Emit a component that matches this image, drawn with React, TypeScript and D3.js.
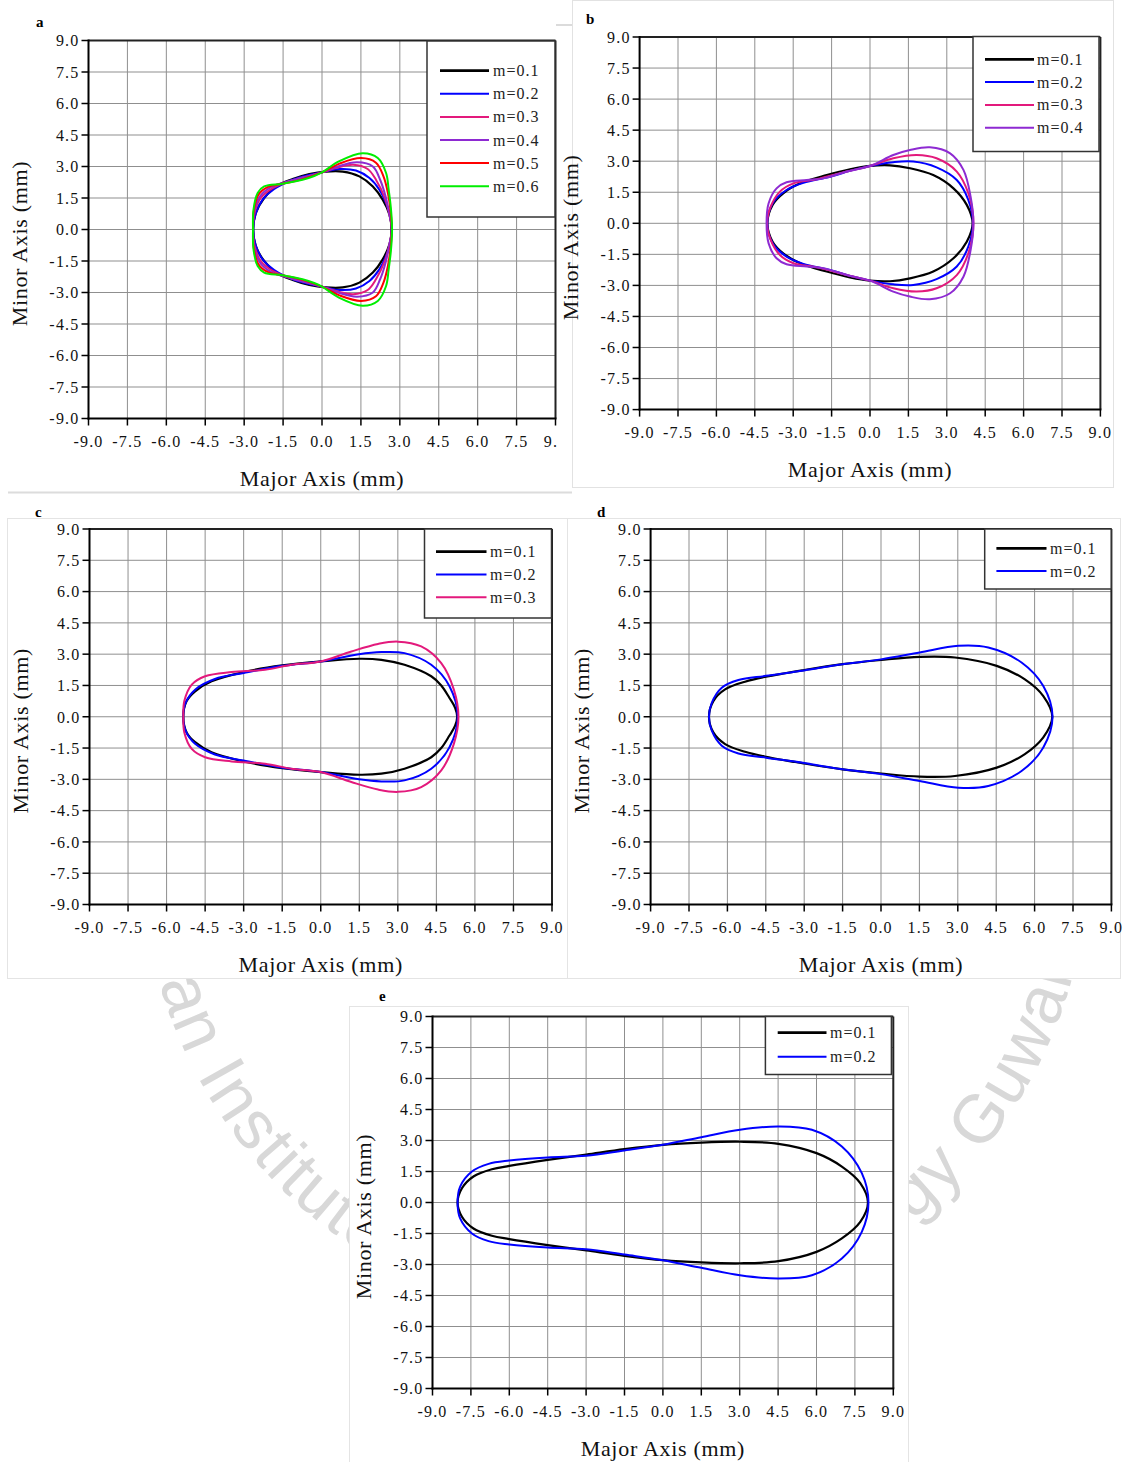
import React from "react";
import * as d3 from "d3";

type Pt = [number, number];

const W = 1129;
const H = 1462;

// axis ticks (same on both axes, all panels)
const tickValues = [-9, -7.5, -6, -4.5, -3, -1.5, 0, 1.5, 3, 4.5, 6, 7.5, 9];
const tickLabels = ["-9.0", "-7.5", "-6.0", "-4.5", "-3.0", "-1.5", "0.0", "1.5", "3.0", "4.5", "6.0", "7.5", "9.0"];

const mLabels = ["m=0.1", "m=0.2", "m=0.3", "m=0.4", "m=0.5", "m=0.6"];
const mColors = ["#000000", "#0000ff", "#e3197c", "#8e2ad2", "#ff0000", "#00ee00"];

// upper halves of the outlines (major, minor) in mm, left tip -> right tip
const A_M01: Pt[] = [[-2.65, 0], [-2.55, 0.79], [-2.23, 1.5], [-1.78, 2.05], [-1.13, 2.4], [-0.49, 2.64], [0.15, 2.76], [0.8, 2.76], [1.44, 2.53], [1.96, 2.05], [2.34, 1.42], [2.6, 0.71], [2.68, 0]];
const A_M02: Pt[] = [[-2.65, 0], [-2.57, 0.71], [-2.29, 1.42], [-1.84, 1.93], [-1.13, 2.37], [-0.5, 2.6], [0, 2.72], [0.67, 2.88], [1.31, 2.81], [1.83, 2.45], [2.21, 1.9], [2.47, 1.26], [2.63, 0.63], [2.68, 0]];
const A_M03: Pt[] = [[-2.66, 0], [-2.6, 0.79], [-2.36, 1.5], [-1.9, 1.97], [-1.13, 2.34], [-0.5, 2.55], [0, 2.72], [0.6, 2.95], [1.2, 3.08], [1.76, 2.88], [2.08, 2.37], [2.42, 1.5], [2.6, 0.71], [2.69, 0]];
const A_M04: Pt[] = [[-2.66, 0], [-2.61, 0.87], [-2.39, 1.58], [-1.97, 2.02], [-1.2, 2.33], [-0.5, 2.55], [0, 2.72], [0.6, 3.0], [1.35, 3.2], [1.96, 3.0], [2.24, 2.37], [2.45, 1.58], [2.6, 0.71], [2.69, 0]];
const A_M05: Pt[] = [[-2.66, 0], [-2.63, 0.87], [-2.45, 1.66], [-2.1, 2.02], [-1.39, 2.21], [-0.75, 2.4], [0, 2.72], [0.7, 3.15], [1.51, 3.4], [2.08, 3.18], [2.37, 2.53], [2.54, 1.74], [2.65, 0.79], [2.69, 0]];
const A_M06: Pt[] = [[-2.66, 0], [-2.64, 0.95], [-2.48, 1.74], [-2.23, 2.05], [-1.52, 2.18], [-0.75, 2.37], [-0.3, 2.55], [0, 2.72], [0.65, 3.24], [1.57, 3.63], [2.15, 3.4], [2.47, 2.69], [2.57, 1.9], [2.66, 0.95], [2.7, 0]];

const B_M01: Pt[] = [[-4.01, 0], [-3.8, 0.9], [-3.39, 1.45], [-2.73, 1.93], [-1.69, 2.33], [-0.78, 2.61], [0, 2.77], [0.78, 2.8], [1.56, 2.66], [2.47, 2.33], [3.26, 1.69], [3.78, 0.89], [4.01, 0]];
const B_M02: Pt[] = [[-4.01, 0], [-3.8, 0.97], [-3.26, 1.61], [-2.6, 1.96], [-1.56, 2.25], [-0.65, 2.58], [0, 2.77], [0.91, 2.95], [1.69, 2.98], [2.6, 2.7], [3.39, 2.09], [3.84, 1.13], [4.02, 0]];
const B_M03: Pt[] = [[-4.02, 0], [-3.88, 0.8], [-3.52, 1.53], [-2.99, 1.93], [-2.08, 2.13], [-0.91, 2.5], [0, 2.77], [0.91, 3.14], [1.82, 3.3], [2.6, 3.14], [3.39, 2.5], [3.84, 1.45], [4.04, 0]];
const B_M04: Pt[] = [[-4.04, 0], [-3.96, 0.97], [-3.65, 1.69], [-3.26, 1.98], [-2.47, 2.09], [-1.82, 2.17], [-0.91, 2.5], [0, 2.77], [0.91, 3.3], [1.56, 3.54], [2.34, 3.67], [3.13, 3.38], [3.65, 2.58], [3.93, 1.29], [4.04, 0]];

const C_M01: Pt[] = [[-5.35, 0], [-5.22, 0.75], [-4.89, 1.22], [-4.25, 1.7], [-3.0, 2.14], [-1.5, 2.46], [0, 2.65], [1.49, 2.78], [2.36, 2.73], [3.26, 2.49], [4.3, 1.94], [4.69, 1.5], [5.01, 0.9], [5.23, 0.43], [5.31, 0]];
const C_M02: Pt[] = [[-5.35, 0], [-5.26, 0.67], [-4.89, 1.3], [-4.12, 1.81], [-3.0, 2.1], [-1.5, 2.44], [0, 2.65], [1.49, 3.0], [2.36, 3.1], [3.26, 3.05], [4.3, 2.49], [5.01, 1.46], [5.33, 0]];
const C_M03: Pt[] = [[-5.35, 0], [-5.31, 0.75], [-5.02, 1.54], [-4.5, 1.94], [-3.47, 2.14], [-2.17, 2.25], [-1.14, 2.49], [0, 2.65], [1.19, 3.13], [2.23, 3.49], [3.0, 3.6], [3.91, 3.37], [4.69, 2.57], [5.18, 1.3], [5.36, 0]];

const D_M01: Pt[] = [[-6.72, 0], [-6.55, 0.75], [-6.09, 1.31], [-5.31, 1.68], [-4.49, 1.92], [-3.0, 2.24], [-1.5, 2.52], [0, 2.72], [1.51, 2.87], [2.89, 2.84], [4.52, 2.44], [5.62, 1.79], [6.34, 0.99], [6.69, 0]];
const D_M02: Pt[] = [[-6.72, 0], [-6.61, 0.67], [-6.22, 1.39], [-5.57, 1.76], [-4.49, 1.96], [-3.0, 2.22], [-1.5, 2.52], [0, 2.75], [1.51, 3.08], [3.02, 3.4], [4.19, 3.32], [5.49, 2.6], [6.34, 1.47], [6.7, 0]];

const E_M01: Pt[] = [[-8.02, 0], [-7.85, 0.69], [-7.4, 1.26], [-6.68, 1.61], [-6.0, 1.77], [-4.5, 2.06], [-2.99, 2.32], [-1.5, 2.58], [0, 2.79], [1.5, 2.9], [3.01, 2.94], [4.51, 2.84], [6.0, 2.39], [6.99, 1.74], [7.71, 0.94], [8.01, 0]];
const E_M02: Pt[] = [[-8.02, 0], [-7.92, 0.77], [-7.46, 1.5], [-6.81, 1.87], [-6.0, 2.03], [-4.5, 2.18], [-3.0, 2.26], [-1.5, 2.52], [0, 2.79], [1.5, 3.16], [3.01, 3.52], [4.51, 3.68], [5.82, 3.52], [6.99, 2.71], [7.77, 1.42], [8.03, 0]];

const serif = "'Liberation Serif', 'Times New Roman', serif";

// layout of the five sub-plots
const panels = [
  {
    id: "a", left: 88.5, top: 40.5, width: 467, height: 378, tag: [36, 27], clipRight: 557,
    legend: { x: 427, y: 41, w: 128, h: 176, l0: 440, l1: 489, tx: 493, r0: 70.7, dr: 23.1 },
    curves: [A_M01, A_M02, A_M03, A_M04, A_M05, A_M06],
  },
  {
    id: "b", left: 639.6, top: 37, width: 460.8, height: 372.6, tag: [586, 24], clipRight: W,
    legend: { x: 973, y: 36.5, w: 126, h: 115, l0: 985, l1: 1034, tx: 1037, r0: 59.3, dr: 22.8 },
    curves: [B_M01, B_M02, B_M03, B_M04],
  },
  {
    id: "c", left: 89.5, top: 529, width: 462.5, height: 375.5, tag: [35, 517], clipRight: W,
    legend: { x: 424.5, y: 529, w: 127, h: 89, l0: 436, l1: 486.5, tx: 490, r0: 551.7, dr: 22.8 },
    curves: [C_M01, C_M02, C_M03],
  },
  {
    id: "d", left: 650.6, top: 529, width: 460.8, height: 375.5, tag: [597, 517], clipRight: W,
    legend: { x: 984.7, y: 529, w: 126.5, h: 60, l0: 996.4, l1: 1046.5, tx: 1050, r0: 548.3, dr: 22.7 },
    curves: [D_M01, D_M02],
  },
  {
    id: "e", left: 432.5, top: 1016.5, width: 460.8, height: 372, tag: [379, 1001], clipRight: W,
    legend: { x: 765.4, y: 1016.5, w: 126, h: 58, l0: 777.7, l1: 826.5, tx: 830, r0: 1032.7, dr: 24 },
    curves: [E_M01, E_M02],
  },
];

// white page boxes each sub-figure sits on
const boxes = [
  { x: 0, y: 0, w: 572, h: 492, stroke: "none" },
  { x: 572, y: 0, w: 541, h: 487, stroke: "#e2e2e2" },
  { x: 7, y: 518, w: 560, h: 460, stroke: "#e4e4e4" },
  { x: 567, y: 518, w: 553, h: 460, stroke: "#e4e4e4" },
  { x: 349, y: 1006, w: 559, h: 456, stroke: "#e4e4e4" },
];

function closeLoop(upper: Pt[]): Pt[] {
  const lower = upper.slice(1, -1).reverse().map(([x, y]) => [x, -y] as Pt);
  return [...upper, ...lower];
}

function Panel({ p }: { p: any }) {
  const x = d3.scaleLinear().domain([-9, 9]).range([p.left, p.left + p.width]);
  const y = d3.scaleLinear().domain([-9, 9]).range([p.top + p.height, p.top]);
  const line = d3
    .line<Pt>()
    .x((d) => x(d[0]))
    .y((d) => y(d[1]))
    .curve(d3.curveCatmullRomClosed.alpha(0.5));
  const right = p.left + p.width;
  const bottom = p.top + p.height;
  const lg = p.legend;
  const clipId = `clip-${p.id}`;

  return (
    <g>
      <defs>
        <clipPath id={clipId}>
          <rect x={0} y={0} width={p.clipRight} height={H} />
        </clipPath>
      </defs>
      <g clipPath={`url(#${clipId})`}>
        <rect x={p.left} y={p.top} width={p.width} height={p.height} fill="#fff" />
        {/* grid */}
        {tickValues.slice(1, -1).map((t) => (
          <g key={t}>
            <line x1={x(t)} x2={x(t)} y1={p.top} y2={bottom} stroke="#8f8f8f" strokeWidth={1} />
            <line x1={p.left} x2={right} y1={y(t)} y2={y(t)} stroke="#8f8f8f" strokeWidth={1} />
          </g>
        ))}
        {/* frame */}
        <line x1={p.left} x2={right} y1={p.top} y2={p.top} stroke="#222" strokeWidth={2} />
        <line x1={right} x2={right} y1={p.top} y2={bottom} stroke="#222" strokeWidth={2} />
        <line x1={p.left} x2={p.left} y1={p.top - 1} y2={bottom + 1} stroke="#000" strokeWidth={2} />
        <line x1={p.left - 1} x2={right + 1} y1={bottom} y2={bottom} stroke="#000" strokeWidth={2} />
        {/* ticks + labels */}
        {tickValues.map((t, i) => (
          <g key={"t" + t} fontFamily={serif} fontSize={16} letterSpacing={1.2} fill="#111">
            <line x1={x(t)} x2={x(t)} y1={bottom} y2={bottom + 7} stroke="#000" strokeWidth={1.5} />
            <line x1={p.left - 7} x2={p.left} y1={y(t)} y2={y(t)} stroke="#000" strokeWidth={1.5} />
            <text x={x(t)} y={bottom + 28} textAnchor="middle">{tickLabels[i]}</text>
            <text x={p.left - 9} y={y(t)} dy="0.36em" textAnchor="end">{tickLabels[i]}</text>
          </g>
        ))}
        {/* curves */}
        {p.curves.map((c: Pt[], i: number) => (
          <path
            key={"c" + i}
            d={line(closeLoop(c)) || ""}
            fill="none"
            stroke={mColors[i]}
            strokeWidth={i === 0 ? 2.2 : 2}
          />
        ))}
        {/* legend */}
        <rect x={lg.x} y={lg.y} width={lg.w} height={lg.h} fill="#fff" stroke="#333" strokeWidth={1.5} />
        {p.curves.map((_: Pt[], i: number) => (
          <g key={"l" + i}>
            <line
              x1={lg.l0}
              x2={lg.l1}
              y1={lg.r0 + i * lg.dr}
              y2={lg.r0 + i * lg.dr}
              stroke={mColors[i]}
              strokeWidth={i === 0 ? 2.8 : 2}
            />
            <text x={lg.tx} y={lg.r0 + i * lg.dr + 5.5} fontFamily={serif} fontSize={16} letterSpacing={1} fill="#222">
              {mLabels[i]}
            </text>
          </g>
        ))}
      </g>
      {/* axis titles */}
      <text
        x={(p.left + right) / 2}
        y={bottom + 67}
        textAnchor="middle"
        fontFamily={serif}
        fontSize={22}
        letterSpacing={0.7}
        fill="#111"
      >
        Major Axis (mm)
      </text>
      <text
        transform={`translate(${p.left - 61.5},${(p.top + bottom) / 2 + 14}) rotate(-90)`}
        textAnchor="middle"
        fontFamily={serif}
        fontSize={22}
        letterSpacing={0.7}
        fill="#111"
      >
        Minor Axis (mm)
      </text>
      <text x={p.tag[0]} y={p.tag[1]} fontFamily={serif} fontWeight="bold" fontSize={15} fill="#000">
        {p.id}
      </text>
    </g>
  );
}

export default function App() {
  const R = 474;
  const cx = 615;
  const cy = 852;
  const a0 = (200 * Math.PI) / 180;
  const a1 = (-20 * Math.PI) / 180;
  const arc = `M ${cx + R * Math.cos(a0)} ${cy + R * Math.sin(a0)} A ${R} ${R} 0 1 0 ${cx + R * Math.cos(a1)} ${cy + R * Math.sin(a1)}`;

  return (
    <svg
      width={W}
      height={H}
      viewBox={`0 0 ${W} ${H}`}
      style={{ position: "absolute", left: 0, top: 0, background: "#fff" }}
    >
      <rect width={W} height={H} fill="#fff" />
      {/* faint institutional watermark behind the figure */}
      <defs>
        <path id="wm-arc" d={arc} />
      </defs>
      <g fill="#d8d8d8" fontFamily="'Liberation Sans', Arial, sans-serif" fontSize={68} letterSpacing={2}>
        <text>
          <textPath href="#wm-arc" startOffset={180}>Indian Institute of</textPath>
        </text>
        <text>
          <textPath href="#wm-arc" startOffset={943}>Technology Guwahati</textPath>
        </text>
      </g>
      {boxes.map((b, i) => (
        <rect key={i} x={b.x + 0.5} y={b.y + 0.5} width={b.w} height={b.h} fill="#fff" stroke={b.stroke} />
      ))}
      <line x1={8} x2={572} y1={492.5} y2={492.5} stroke="#dcdcdc" strokeWidth={2} />
      <line x1={556} x2={572} y1={25} y2={25} stroke="#cfcfcf" strokeWidth={1.5} />
      {panels.map((p) => (
        <Panel key={p.id} p={p} />
      ))}
    </svg>
  );
}
